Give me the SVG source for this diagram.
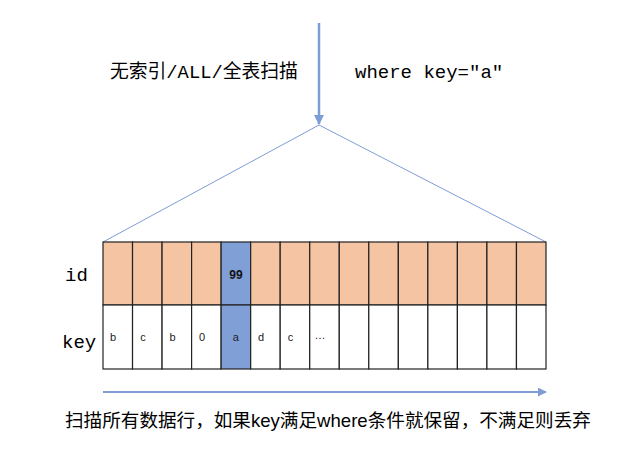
<svg xmlns="http://www.w3.org/2000/svg" width="642" height="463" viewBox="0 0 642 463">
<defs>
<style>
.cjk{font-family:"Liberation Sans","Noto Sans CJK SC",sans-serif;fill:#000}
.mono{font-family:"Liberation Mono","Noto Sans CJK SC",monospace;fill:#000}
.cell{stroke:#222;stroke-width:1.2}
.org{fill:#f5c4a3}
.blu{fill:#819fd7}
.wht{fill:#fff}
.ct{font-family:"Liberation Sans",Arial,sans-serif;font-size:11px;fill:#222}
.conn{stroke:#7e9dd6;fill:none}
</style>
<marker id="ah" viewBox="0 0 10 10" refX="9" refY="5" markerWidth="4" markerHeight="4" orient="auto" markerUnits="strokeWidth">
<path d="M0,0 L10,5 L0,10 z" fill="#7e9dd6"/>
</marker>
<marker id="ah2" viewBox="0 0 10 10" refX="9" refY="5" markerWidth="5" markerHeight="5" orient="auto" markerUnits="strokeWidth">
<path d="M0,0 L10,5 L0,10 z" fill="#7e9dd6"/>
</marker>
</defs>
<rect width="642" height="463" fill="#fff"/>

<g id="connectors">
<line class="conn" x1="319" y1="23" x2="319" y2="124" stroke-width="2.5" marker-end="url(#ah)"/>
<polyline class="conn" points="103,242 319,125 546,242" stroke-width="1"/>
<line class="conn" x1="103" y1="392" x2="546" y2="392" stroke-width="1.8" marker-end="url(#ah2)"/>
</g>

<g id="title">
<text x="110" y="78" font-size="18.8"><tspan class="cjk">无索引</tspan><tspan class="mono">/ALL/</tspan><tspan class="cjk">全表扫描</tspan></text>
<text class="mono" x="355" y="78" font-size="19">where key="a"</text>
</g>

<g id="labels">
<text class="mono" x="65" y="281" font-size="19">id</text>
<text class="mono" x="62" y="348" font-size="19">key</text>
</g>

<g id="row-id">
<rect class="cell org" x="103" y="242" width="29.53" height="63"/>
<rect class="cell org" x="132.53" y="242" width="29.53" height="63"/>
<rect class="cell org" x="162.07" y="242" width="29.53" height="63"/>
<rect class="cell org" x="191.6" y="242" width="29.53" height="63"/>
<rect class="cell blu" x="221.13" y="242" width="29.53" height="63"/>
<rect class="cell org" x="250.67" y="242" width="29.53" height="63"/>
<rect class="cell org" x="280.2" y="242" width="29.53" height="63"/>
<rect class="cell org" x="309.73" y="242" width="29.53" height="63"/>
<rect class="cell org" x="339.27" y="242" width="29.53" height="63"/>
<rect class="cell org" x="368.8" y="242" width="29.53" height="63"/>
<rect class="cell org" x="398.33" y="242" width="29.53" height="63"/>
<rect class="cell org" x="427.87" y="242" width="29.53" height="63"/>
<rect class="cell org" x="457.4" y="242" width="29.53" height="63"/>
<rect class="cell org" x="486.93" y="242" width="29.53" height="63"/>
<rect class="cell org" x="516.47" y="242" width="29.53" height="63"/>
<text x="235.9" y="279" text-anchor="middle" font-family="Liberation Sans,Arial,sans-serif" font-size="12" font-weight="bold" fill="#111">99</text>
</g>

<g id="row-key">
<rect class="cell wht" x="103" y="305" width="29.53" height="64"/>
<rect class="cell wht" x="132.53" y="305" width="29.53" height="64"/>
<rect class="cell wht" x="162.07" y="305" width="29.53" height="64"/>
<rect class="cell wht" x="191.6" y="305" width="29.53" height="64"/>
<rect class="cell blu" x="221.13" y="305" width="29.53" height="64"/>
<rect class="cell wht" x="250.67" y="305" width="29.53" height="64"/>
<rect class="cell wht" x="280.2" y="305" width="29.53" height="64"/>
<rect class="cell wht" x="309.73" y="305" width="29.53" height="64"/>
<rect class="cell wht" x="339.27" y="305" width="29.53" height="64"/>
<rect class="cell wht" x="368.8" y="305" width="29.53" height="64"/>
<rect class="cell wht" x="398.33" y="305" width="29.53" height="64"/>
<rect class="cell wht" x="427.87" y="305" width="29.53" height="64"/>
<rect class="cell wht" x="457.4" y="305" width="29.53" height="64"/>
<rect class="cell wht" x="486.93" y="305" width="29.53" height="64"/>
<rect class="cell wht" x="516.47" y="305" width="29.53" height="64"/>
<text class="ct" x="113" y="341" text-anchor="middle">b</text>
<text class="ct" x="143" y="341" text-anchor="middle">c</text>
<text class="ct" x="172.5" y="341" text-anchor="middle">b</text>
<text class="ct" x="202" y="341" text-anchor="middle">0</text>
<text class="ct" x="235.9" y="341" text-anchor="middle">a</text>
<text class="ct" x="261" y="341" text-anchor="middle">d</text>
<text class="ct" x="290.5" y="341" text-anchor="middle">c</text>
<text class="ct" x="320" y="339" text-anchor="middle" font-size="9">…</text>
</g>

<g id="caption">
<text class="cjk" x="65" y="427" font-size="18.6">扫描所有数据行，如果key满足where条件就保留，不满足则丢弃</text>
</g>
</svg>
